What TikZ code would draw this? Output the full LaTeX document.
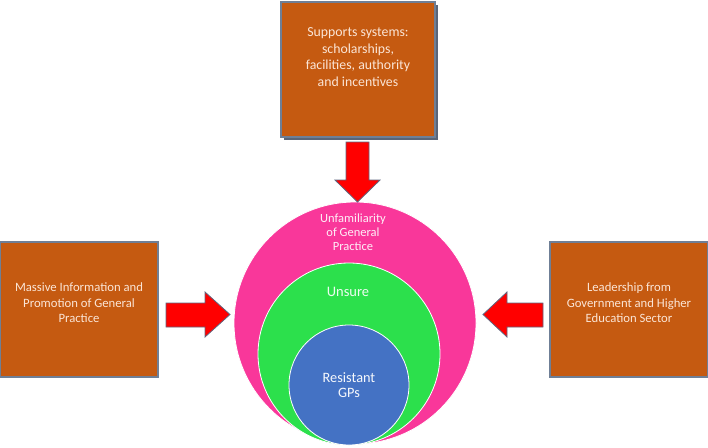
\documentclass[tikz,border=0pt]{standalone}
\usepackage{fontspec}
\setmainfont{Carlito}
\definecolor{boxfill}{HTML}{C55A11}
\definecolor{boxline}{HTML}{6F7F96}
\definecolor{boxtext}{HTML}{FBE5D6}
\definecolor{arrowred}{HTML}{FF0000}
\definecolor{arrowline}{HTML}{5E6680}
\definecolor{pinkc}{HTML}{F9379A}
\definecolor{greenc}{HTML}{2CE04C}
\definecolor{bluec}{HTML}{4472C4}
\begin{document}
\begin{tikzpicture}[x=1pt,y=-1pt,
  factorbox/.style={draw=boxline,line width=1.1pt,fill=boxfill},
  boxlabel/.style={text=boxtext,align=center,inner sep=0pt},
  blockarrow/.style={fill=arrowred,draw=arrowline,line width=0.8pt,line join=miter},
  ring/.style={draw=white,line width=0.8pt}]
\useasboundingbox (0,0) rectangle (708,447);
% boxes
\fill[boxline!80!black] (284,5) rectangle (438,140);
\draw[factorbox] (281,2) rectangle (435,137);
\node[boxlabel,font=\fontsize{13.8}{16.6}\selectfont] (top) at (358,57)
  {Supports systems:\\scholarships,\\facilities, authority\\and incentives};
\draw[factorbox] (0,242) rectangle (158,377);
\node[boxlabel,font=\fontsize{12.7}{15.6}\selectfont] (left) at (79,303)
  {Massive Information and\\Promotion of General\\Practice};
\draw[factorbox] (550,242) rectangle (708,377);
\node[boxlabel,font=\fontsize{12.7}{15.6}\selectfont] (right) at (629,303)
  {Leadership from\\Government and Higher\\Education Sector};
% circles
\draw[ring,fill=pinkc] (355,323) circle (121);
\draw[ring,fill=greenc] (349,354) circle (91);
\draw[ring,fill=bluec] (349,385) circle (60);
\node[text=white!92!pinkc,align=center,inner sep=0pt,font=\fontsize{12.5}{14}\selectfont] (unf) at (353,232)
  {Unfamiliarity\\of General\\Practice};
\node[text=white!92!greenc,inner sep=0pt,font=\fontsize{14.5}{16}\selectfont] (uns) at (348,292) {Unsure};
\node[text=white!95!bluec,align=center,inner sep=0pt,font=\fontsize{14.3}{15.5}\selectfont] (res) at (349,385)
  {Resistant\\GPs};
% block arrows
\draw[blockarrow] (346,142) -- (369,142) -- (369,180) -- (380,180) -- (357.5,202)
  -- (335,180) -- (346,180) -- cycle;
\draw[blockarrow] (166,303) -- (205,303) -- (205,292) -- (230,314.5) -- (205,337)
  -- (205,327) -- (166,327) -- cycle;
\draw[blockarrow] (543,303) -- (507,303) -- (507,292) -- (483,314.5) -- (507,337)
  -- (507,327) -- (543,327) -- cycle;
\end{tikzpicture}
\end{document}
